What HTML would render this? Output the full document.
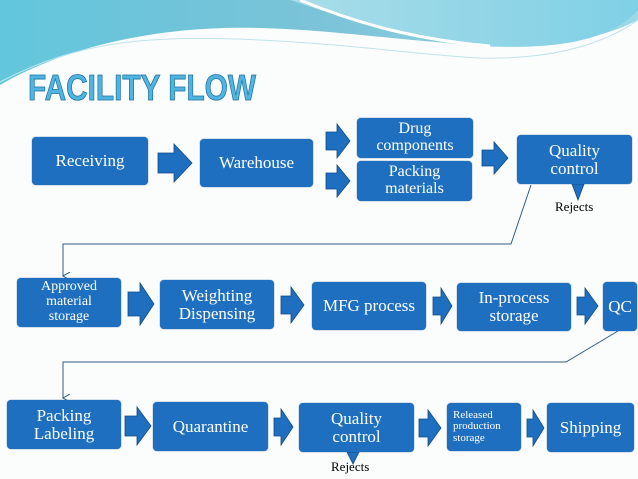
<!DOCTYPE html>
<html><head><style>
body{margin:0;width:638px;height:479px;position:relative;overflow:hidden;background:#fbfcfc;font-family:"Liberation Serif","DejaVu Serif",serif;}
.b{position:absolute;background:#1f6fc1;border-radius:4px;color:#fff;display:flex;align-items:center;justify-content:center;text-align:center;line-height:1.05;box-shadow:0 0 1px #0d4c8a;font-family:"Liberation Serif","DejaVu Serif",serif;}
.t{position:absolute;font-size:13px;color:#000;font-family:"Liberation Serif",serif;}
svg{position:absolute;left:0;top:0}
</style></head><body>
<svg width="638" height="479">
<defs>
<linearGradient id="g1" x1="0" y1="0" x2="1" y2="0"><stop offset="0" stop-color="#62c6dc"/><stop offset="0.5" stop-color="#7bc3d8"/><stop offset="1" stop-color="#9cd8e6"/></linearGradient>
<linearGradient id="g2" x1="0" y1="0" x2="1" y2="0"><stop offset="0" stop-color="#a9dde8"/><stop offset="1" stop-color="#7fd0e6"/></linearGradient>
<marker id="ah" markerWidth="8" markerHeight="8" refX="4" refY="7" orient="auto" markerUnits="userSpaceOnUse"><path d="M0,0 L4,7 L8,0" fill="none" stroke="#2f5b86" stroke-width="1"/></marker>
</defs>
<path d="M0,0 H638 V20 C600,40 540,50 470,45 C380,38 330,30 260,28 C150,25 60,50 0,85 Z" fill="url(#g1)"/>
<path d="M290,0 H638 V10 C610,40 560,50 480,46 C410,40 350,20 290,0 Z" fill="url(#g2)"/>
<path d="M300,0 C360,25 420,40 490,46" stroke="#fff" stroke-width="3" fill="none"/>
<path d="M0,82 C80,40 150,35 260,40 C360,45 420,55 480,58 C560,60 610,40 638,20" stroke="#bfe3ec" stroke-width="1" fill="none"/>
<g fill="#1f6fc1" stroke="#104a85" stroke-width="0.8">
<path d="M158,153 h16 v-9 l18,19 l-18,19 v-9 h-16 z"/>
<path d="M326,132 h11 v-8 l13,17 l-13,17 v-8 h-11 z"/>
<path d="M326,173 h11 v-8 l13,16 l-13,16 v-8 h-11 z"/>
<path d="M482,150 h12 v-8 l14,16 l-14,16 v-8 h-12 z"/>
<path d="M128,292 h12 v-9 l14,21 l-14,21 v-9 h-12 z"/>
<path d="M281,296 h10 v-9 l13,18 l-13,18 v-9 h-10 z"/>
<path d="M433,297 h8 v-9 l11,18 l-11,18 v-9 h-8 z"/>
<path d="M577,297 h8 v-9 l13,18 l-13,18 v-9 h-8 z"/>
<path d="M125,416 h12 v-9 l14,19 l-14,19 v-9 h-12 z"/>
<path d="M274,418 h7 v-9 l12,18 l-12,18 v-9 h-7 z"/>
<path d="M419,419 h9 v-9 l13,18 l-13,18 v-9 h-9 z"/>
<path d="M527,419 h6 v-9 l11,18 l-11,18 v-9 h-6 z"/>
<path d="M572,184 h12 l-6,16 z"/>
<path d="M347,452 h12 l-6,12 z"/>
</g>
<g stroke="#2f5b86" stroke-width="1" fill="none">
<path d="M531,185 L511,244 H63 V276" marker-end="url(#ah)"/>
<path d="M618,331 L566,362 H63 V398" marker-end="url(#ah)"/>
</g>
<text x="28" y="100" font-family="Liberation Sans,sans-serif" font-size="36" font-weight="bold" fill="#4fb4e0" stroke="#1a6fa0" stroke-width="0.8" textLength="228" lengthAdjust="spacingAndGlyphs">FACILITY FLOW</text>
</svg>
<div class="b" style="left:32px;top:137px;width:116px;height:48px;font-size:17px">Receiving</div>
<div class="b" style="left:200px;top:139px;width:113px;height:48px;font-size:17px">Warehouse</div>
<div class="b" style="left:357px;top:118px;width:116px;height:40px;font-size:16px">Drug<br>components</div>
<div class="b" style="left:357px;top:161px;width:115px;height:40px;font-size:16px">Packing<br>materials</div>
<div class="b" style="left:517px;top:135px;width:115px;height:49px;font-size:17px">Quality<br>control</div>
<div class="t" style="left:555px;top:199px">Rejects</div>
<div class="b" style="left:17px;top:278px;width:104px;height:49px;font-size:14px">Approved<br>material<br>storage</div>
<div class="b" style="left:160px;top:280px;width:114px;height:49px;font-size:17px">Weighting<br>Dispensing</div>
<div class="b" style="left:312px;top:282px;width:114px;height:48px;font-size:17px">MFG process</div>
<div class="b" style="left:457px;top:283px;width:114px;height:48px;font-size:17px">In-process<br>storage</div>
<div class="b" style="left:603px;top:282px;width:34px;height:49px;font-size:17px">QC</div>
<div class="b" style="left:7px;top:400px;width:114px;height:49px;font-size:17px">Packing<br>Labeling</div>
<div class="b" style="left:153px;top:402px;width:115px;height:49px;font-size:17px">Quarantine</div>
<div class="b" style="left:299px;top:403px;width:115px;height:49px;font-size:17px">Quality<br>control</div>
<div class="t" style="left:331px;top:459px">Rejects</div>
<div class="b" style="left:447px;top:403px;width:74px;height:48px;font-size:11px;justify-content:flex-start;text-align:left;padding-left:6px;box-sizing:border-box">Released<br>production<br>storage</div>
<div class="b" style="left:547px;top:403px;width:87px;height:49px;font-size:17px">Shipping</div>
</body></html>
